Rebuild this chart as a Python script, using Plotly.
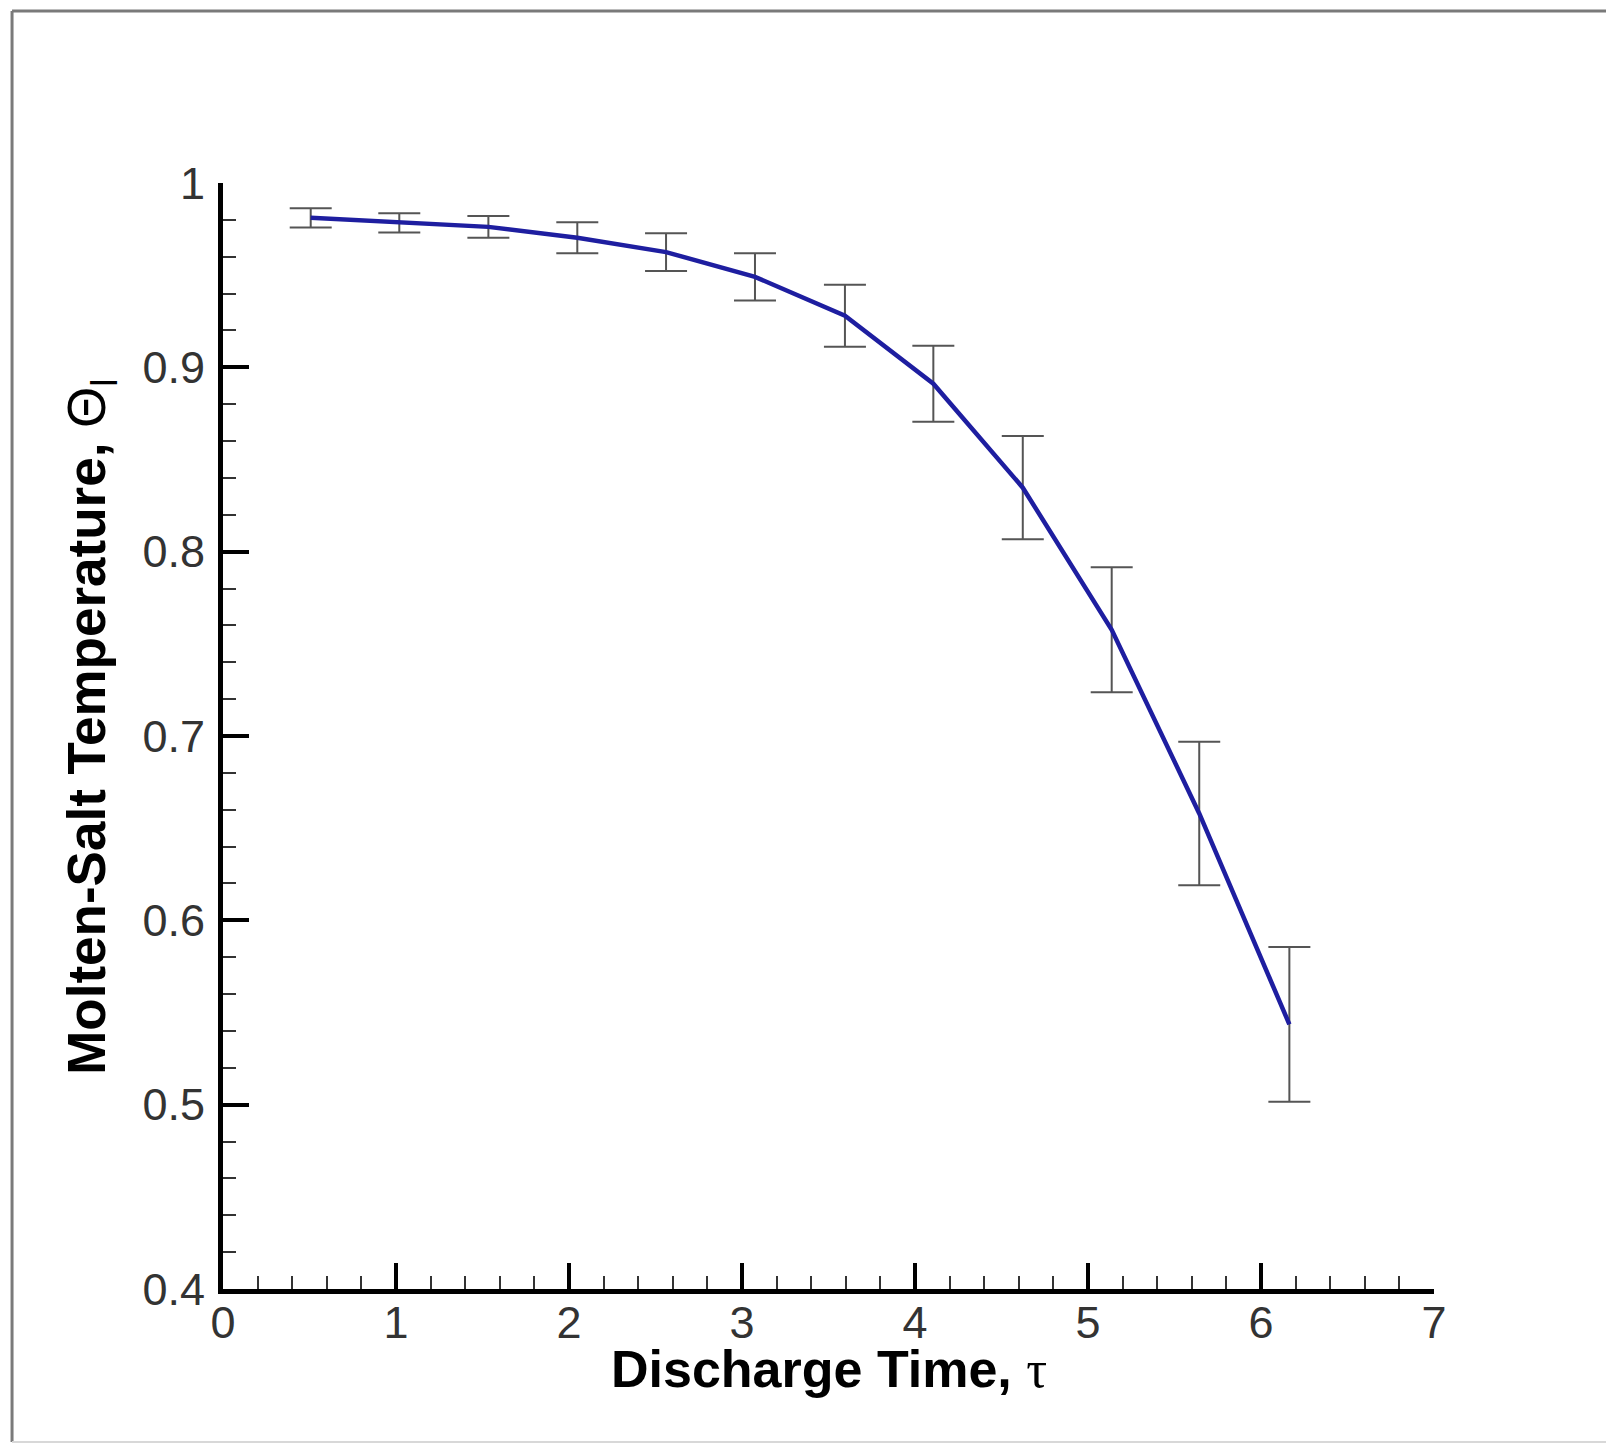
import plotly.graph_objects as go

# ---- data ----
tau = [0.507, 1.019, 1.534, 2.048, 2.561, 3.075, 3.595, 4.106, 4.623, 5.137, 5.643, 6.164]
theta = [0.9811, 0.9784, 0.9762, 0.9703, 0.9625, 0.9491, 0.9280, 0.8911, 0.8347, 0.7576, 0.6580, 0.5436]
theta_err = [0.0052, 0.0052, 0.0059, 0.0084, 0.0102, 0.0128, 0.0168, 0.0206, 0.0280, 0.0339, 0.0389, 0.0420]

x_ticks = [0, 1, 2, 3, 4, 5, 6, 7]
x_tick_labels = ["0", "1", "2", "3", "4", "5", "6", "7"]
y_ticks = [0.4, 0.5, 0.6, 0.7, 0.8, 0.9, 1.0]
y_tick_labels = ["0.4", "0.5", "0.6", "0.7", "0.8", "0.9", "1"]

x_title = "<b>Discharge Time, </b><span style='font-family:Liberation Serif'>τ</span>"
y_title = "<b>Molten-Salt Temperature, </b>Θ<sub>l</sub>"

FONT = "Liberation Sans, Arial, sans-serif"

fig = go.Figure()

# error bars (drawn beneath the line)
fig.add_trace(go.Scatter(
    x=tau, y=theta, mode="markers",
    marker=dict(size=1, color="rgba(0,0,0,0)"),
    error_y=dict(type="data", array=theta_err, visible=True,
                 color="#555555", thickness=2, width=21),
    showlegend=False, hoverinfo="skip",
))

# solution curve
fig.add_trace(go.Scatter(
    x=tau, y=theta, mode="lines",
    line=dict(color="#1e1ea0", width=4.5),
    showlegend=False,
))

axis_common = dict(
    showline=True, linewidth=5, linecolor="black",
    ticks="inside", ticklen=26, tickwidth=4, tickcolor="black",
    showgrid=False, zeroline=False,
    tickfont=dict(family=FONT, size=45, color="#333333"),
)

fig.update_xaxes(
    range=[0, 7], tickvals=x_ticks, ticktext=x_tick_labels,
    ticklabelstandoff=-10,
    minor=dict(dtick=0.2, tick0=0, ticks="inside", ticklen=13, tickwidth=2,
               tickcolor="#333333", showgrid=False),
    **axis_common,
)
fig.update_yaxes(
    range=[0.4, 1.0], tickvals=y_ticks, ticktext=y_tick_labels,
    ticklabelstandoff=4,
    minor=dict(dtick=0.02, tick0=0.4, ticks="inside", ticklen=13, tickwidth=2,
               tickcolor="#333333", showgrid=False),
    **axis_common,
)

fig.update_layout(
    width=1614, height=1443,
    margin=dict(l=215, r=188, t=175, b=162, pad=0),
    plot_bgcolor="white", paper_bgcolor="white",
    font=dict(family=FONT, color="black"),
    annotations=[
        dict(text=x_title, xref="paper", yref="paper", x=0.5, y=-0.072,
             xanchor="center", yanchor="middle", showarrow=False,
             font=dict(family=FONT, size=52, color="black")),
        dict(text=y_title, xref="paper", yref="paper", x=-0.1093, y=0.508,
             xanchor="center", yanchor="middle", showarrow=False, textangle=-90,
             font=dict(family=FONT, size=53, color="black")),
    ],
    shapes=[
        dict(type="line", xref="paper", yref="paper", x0=-0.1742, x1=1.16,
             y0=1.1555, y1=1.1555, line=dict(color="#7a7a7a", width=3)),
        dict(type="line", xref="paper", yref="paper", x0=-0.1742, x1=-0.1742,
             y0=1.1555, y1=-0.1383, line=dict(color="#7a7a7a", width=3)),
        dict(type="line", xref="paper", yref="paper", x0=-0.1742, x1=1.16,
             y0=-0.1383, y1=-0.1383, line=dict(color="#d8d8d8", width=2)),
    ],
)

fig.write_html("out.html")
